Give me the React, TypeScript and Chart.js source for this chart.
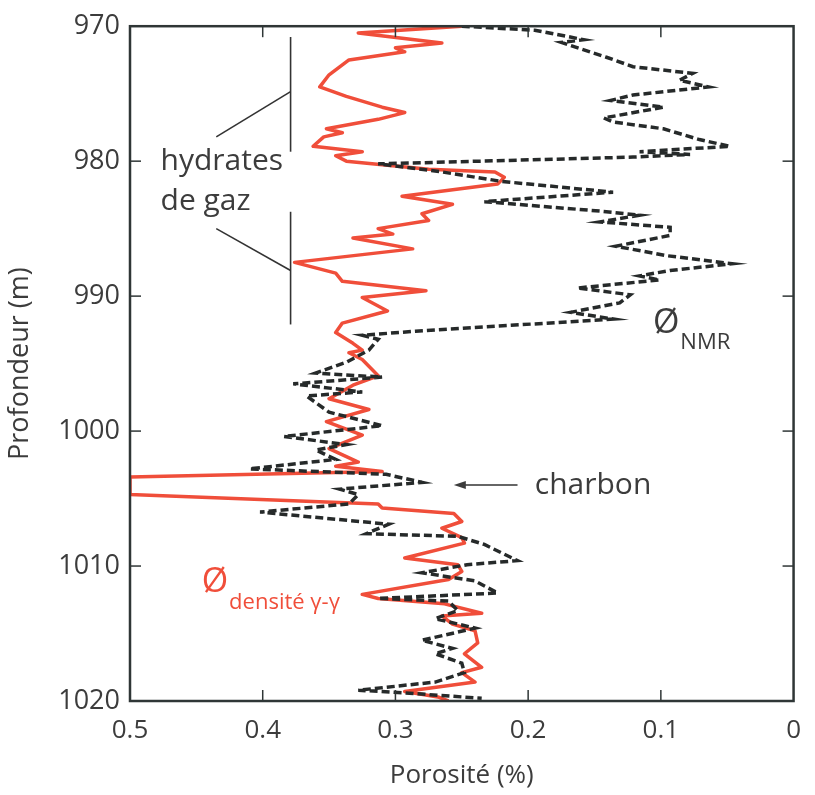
import React, { useEffect, useRef } from "react";
import { Chart, registerables } from "chart.js";

Chart.register(...registerables);

// Density (gamma-gamma) porosity log
const redDepth = [
  970.0, 970.5, 971.25, 971.6, 971.9, 972.5, 973.6, 974.5, 975.2, 976.0, 976.4, 976.9, 977.6, 977.9,
  978.2, 978.9, 979.3, 979.6, 980.0, 980.6, 980.8, 981.2, 981.7, 982.6, 983.2, 983.9, 984.4, 985.0,
  985.4, 985.7, 986.5, 987.5, 988.3, 988.9, 989.6, 990.1, 991.1, 992.0, 992.7, 993.5, 994.0, 994.2,
  994.7, 995.9, 996.6, 997.6, 998.4, 999.3, 1000.3, 1001.3, 1002.3, 1002.6, 1003.0, 1003.4, 1004.7,
  1005.4, 1005.7, 1006.1, 1006.7, 1007.2, 1007.9, 1008.3, 1009.4, 1009.9, 1010.4, 1011.0, 1012.1,
  1012.4, 1012.8, 1013.5, 1013.7, 1014.3, 1014.8, 1015.7, 1016.5, 1017.5, 1017.9, 1018.6, 1019.3,
  1019.7, 1020.0,
];
const redPorosity = [
  0.25, 0.328, 0.265, 0.3, 0.293, 0.335, 0.35, 0.357, 0.337, 0.31, 0.293, 0.313, 0.352, 0.34,
  0.354, 0.362, 0.325, 0.345, 0.337, 0.275, 0.225, 0.218, 0.223, 0.295, 0.257, 0.28, 0.275, 0.313,
  0.302, 0.332, 0.287, 0.376, 0.345, 0.34, 0.277, 0.325, 0.306, 0.34, 0.345, 0.332, 0.325, 0.335,
  0.325, 0.313, 0.332, 0.35, 0.32, 0.352, 0.325, 0.35, 0.328, 0.345, 0.31, 0.5, 0.5,
  0.313, 0.31, 0.256, 0.25, 0.265, 0.25, 0.248, 0.293, 0.253, 0.25, 0.26, 0.325,
  0.313, 0.263, 0.235, 0.265, 0.257, 0.24, 0.238, 0.248, 0.235, 0.25, 0.24, 0.293,
  0.268, 0.26,
];

// NMR porosity log
const nmrDepth = [
  970.0, 970.3, 971.0, 971.2, 972.3, 973.0, 973.5, 974.0, 974.5, 975.1, 975.5, 976.0, 976.8, 977.1,
  977.6, 978.4, 978.9, 979.3, 979.5, 979.7, 980.2, 980.8, 981.5, 982.3, 983.0, 983.7, 984.0, 984.5,
  984.9, 985.5, 986.3, 987.0, 987.6, 988.1, 988.5, 988.8, 989.4, 989.9, 990.5, 991.2, 991.7, 992.6,
  992.9, 993.2, 994.0, 994.9, 995.7, 996.0, 996.5, 997.1, 997.4, 998.6, 999.6, 1000.4, 1001.0,
  1001.4, 1002.1, 1002.8, 1003.2, 1003.8, 1004.3, 1004.7, 1005.4, 1006.0, 1006.9, 1007.6, 1007.8,
  1008.4, 1009.6, 1009.9, 1010.5, 1011.1, 1012.0, 1012.4, 1012.6, 1013.3, 1013.9, 1014.6, 1015.5,
  1016.1, 1016.5, 1017.2, 1017.9, 1018.6, 1019.2, 1019.4, 1019.8,
];
const nmrPorosity = [
  0.25, 0.195, 0.158, 0.175, 0.141, 0.121, 0.076, 0.086, 0.064, 0.121, 0.138, 0.098, 0.143, 0.136,
  0.098, 0.071, 0.048, 0.116, 0.078, 0.121, 0.313, 0.265, 0.22, 0.136, 0.233, 0.146, 0.116, 0.146,
  0.093, 0.093, 0.134, 0.096, 0.046, 0.093, 0.116, 0.101, 0.163, 0.123, 0.131, 0.168, 0.136, 0.285,
  0.325, 0.313, 0.32, 0.337, 0.36, 0.31, 0.377, 0.325, 0.367, 0.35, 0.31, 0.384, 0.337,
  0.36, 0.345, 0.41, 0.307, 0.28, 0.342, 0.328, 0.335, 0.402, 0.305, 0.322, 0.253,
  0.233, 0.208, 0.246, 0.28, 0.24, 0.223, 0.313, 0.26, 0.253, 0.27, 0.24, 0.28,
  0.257, 0.27, 0.25, 0.248, 0.27, 0.328, 0.293, 0.235,
];

const xTickValues = [0.5, 0.4, 0.3, 0.2, 0.1, 0];
const xTickLabels = ["0.5", "0.4", "0.3", "0.2", "0.1", "0"];
const yTickValues = [970, 980, 990, 1000, 1010, 1020];
const yTickLabels = ["970", "980", "990", "1000", "1010", "1020"];

const RED = "#f04e3a";
const INK = "#3c3c3c";
const FONT = "'Open Sans', 'Noto Sans', sans-serif";

const framePlugin = {
  id: "frameAndNotes",
  afterDatasetsDraw(chart: any) {
    const { ctx, chartArea: a, scales } = chart;
    const xs = scales.x;
    const ys = scales.y;
    const X = (v: number) => xs.getPixelForValue(v);
    const Y = (d: number) => ys.getPixelForValue(d);
    const line = (x1: number, y1: number, x2: number, y2: number) => {
      ctx.beginPath();
      ctx.moveTo(x1, y1);
      ctx.lineTo(x2, y2);
      ctx.stroke();
    };
    ctx.save();
    // frame
    ctx.strokeStyle = "#2f3636";
    ctx.lineWidth = 2.5;
    ctx.strokeRect(a.left, a.top, a.right - a.left, a.bottom - a.top);
    // inward ticks
    ctx.lineWidth = 1.5;
    const TL = 11;
    xTickValues.forEach((v) => {
      const px = X(v);
      if (px <= a.left + 2 || px >= a.right - 2) return;
      line(px, a.bottom, px, a.bottom - TL);
      line(px, a.top, px, a.top + TL);
    });
    yTickValues.forEach((d) => {
      const py = Y(d);
      if (py <= a.top + 2 || py >= a.bottom - 2) return;
      line(a.left, py, a.left + TL, py);
      line(a.right, py, a.right - TL, py);
    });

    // hydrates de gaz brackets
    ctx.strokeStyle = "#333";
    ctx.lineWidth = 1.6;
    line(X(0.379), Y(970.8), X(0.379), Y(979.3));
    line(X(0.435), Y(978.2), X(0.379), Y(974.85));
    line(X(0.379), Y(983.75), X(0.379), Y(992.1));
    line(X(0.435), Y(985.0), X(0.379), Y(988.1));

    ctx.fillStyle = INK;
    ctx.textBaseline = "middle";
    ctx.textAlign = "left";
    ctx.font = `30px ${FONT}`;
    ctx.fillText("hydrates", X(0.477), Y(980.0));
    ctx.fillText("de gaz", X(0.477), Y(983.0));

    // charbon arrow
    ctx.fillText("charbon", X(0.195), Y(1004.0));
    ctx.lineWidth = 1.6;
    const ay = Y(1004.0);
    line(X(0.208), ay, X(0.253), ay);
    ctx.beginPath();
    ctx.moveTo(X(0.256), ay);
    ctx.lineTo(X(0.256) + 12, ay - 4);
    ctx.lineTo(X(0.256) + 12, ay + 4);
    ctx.closePath();
    ctx.fill();

    // Ø NMR
    ctx.font = `34px ${FONT}`;
    const nx = X(0.106);
    const ny = Y(992.0);
    ctx.fillText("Ø", nx, ny);
    const w1 = ctx.measureText("Ø").width;
    ctx.font = `22px ${FONT}`;
    ctx.fillText("NMR", nx + w1 + 1, ny + 20);

    // Ø densité γ-γ
    ctx.fillStyle = RED;
    ctx.font = `34px ${FONT}`;
    const dx = X(0.446);
    const dy = Y(1011.2);
    ctx.fillText("Ø", dx, dy);
    const w2 = ctx.measureText("Ø").width;
    ctx.font = `22px ${FONT}`;
    ctx.fillText("densité γ-γ", dx + w2 + 1, dy + 20);
    ctx.restore();
  },
};

export default function App() {
  const ref = useRef<HTMLCanvasElement | null>(null);
  useEffect(() => {
    if (!ref.current) return;
    const chart = new Chart(ref.current, {
      type: "scatter",
      data: {
        datasets: [
          {
            label: "Ø NMR",
            data: nmrDepth.map((d, i) => ({ x: nmrPorosity[i], y: d })),
            showLine: true,
            borderColor: "#262a2a",
            borderWidth: 3.5,
            borderDash: [8, 4],
            pointRadius: 0,
            tension: 0,
          },
          {
            label: "Ø densité γ-γ",
            data: redDepth.map((d, i) => ({ x: redPorosity[i], y: d })),
            showLine: true,
            borderColor: RED,
            borderWidth: 3.5,
            borderJoinStyle: "round",
            pointRadius: 0,
            tension: 0,
          },
        ],
      },
      options: {
        responsive: false,
        animation: false,
        layout: { padding: { left: 0, top: 21, right: 12, bottom: 0 } },
        plugins: { legend: { display: false }, tooltip: { enabled: false } },
        scales: {
          x: {
            type: "linear",
            min: 0,
            max: 0.5,
            reverse: true,
            afterFit: (s: any) => {
              s.height = 94;
            },
            afterBuildTicks: (s: any) => {
              s.ticks = xTickValues.map((v) => ({ value: v }));
            },
            grid: { display: false, drawTicks: false },
            border: { display: false },
            ticks: {
              padding: 14,
              color: INK,
              font: { family: FONT, size: 26 },
              callback: (v: any) => xTickLabels[xTickValues.indexOf(Math.round(Number(v) * 10) / 10)] ?? "",
            },
            title: {
              display: true,
              text: "Porosité (%)",
              color: INK,
              font: { family: FONT, size: 26 },
              padding: { top: 4 },
            },
          },
          y: {
            type: "linear",
            min: 970,
            max: 1020,
            reverse: true,
            afterFit: (s: any) => {
              s.width = 130;
            },
            afterBuildTicks: (s: any) => {
              s.ticks = yTickValues.map((v) => ({ value: v }));
            },
            grid: { display: false, drawTicks: false },
            border: { display: false },
            ticks: {
              padding: 10,
              color: INK,
              font: { family: FONT, size: 27 },
              callback: (v: any) => yTickLabels[yTickValues.indexOf(Number(v))] ?? "",
            },
            title: {
              display: true,
              text: "Profondeur (m)",
              color: INK,
              font: { family: FONT, size: 27 },
              padding: { top: 4 },
            },
          },
        },
      },
      plugins: [framePlugin],
    });
    return () => chart.destroy();
  }, []);
  return (
    <div style={{ position: "fixed", left: 0, top: 0, width: 815, height: 795, background: "#fff" }}>
      <canvas ref={ref} width={815} height={795} />
    </div>
  );
}
